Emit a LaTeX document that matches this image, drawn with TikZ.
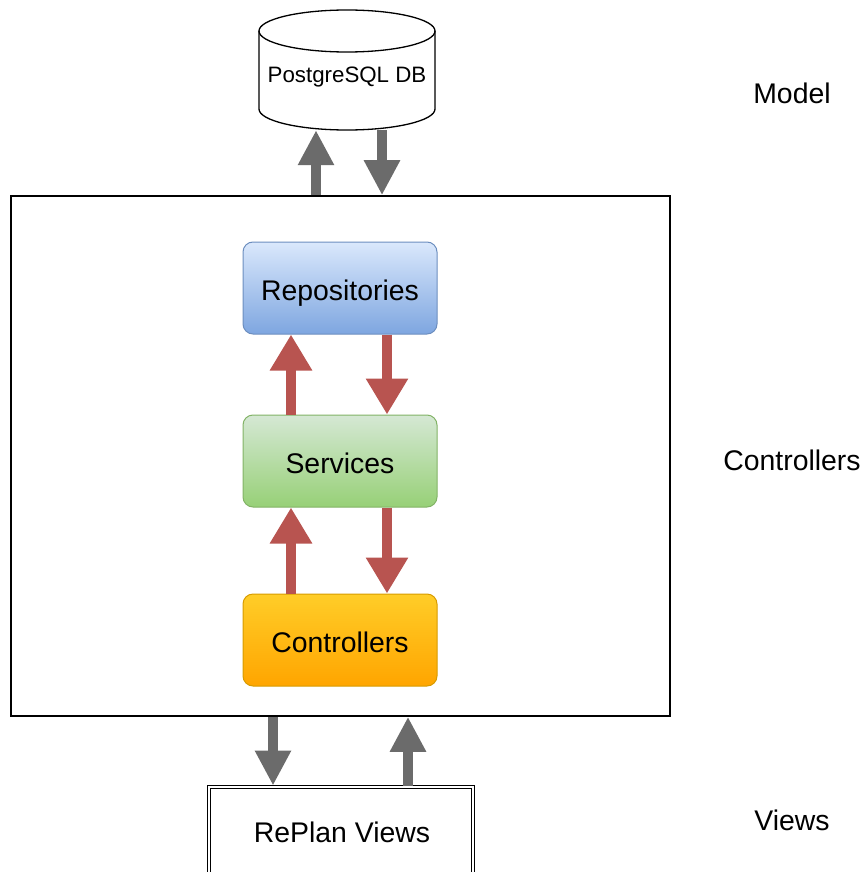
\documentclass[tikz,border=0pt]{standalone}
\usepackage{fontspec}
\setmainfont{Liberation Sans}
\usetikzlibrary{arrows.meta,calc}

\definecolor{repoTop}{HTML}{DAE8FC}
\definecolor{repoBot}{HTML}{7EA6E0}
\definecolor{repoLine}{HTML}{6C8EBF}
\definecolor{servTop}{HTML}{D5E8D4}
\definecolor{servBot}{HTML}{97D077}
\definecolor{servLine}{HTML}{82B366}
\definecolor{ctrlTop}{HTML}{FFCD28}
\definecolor{ctrlBot}{HTML}{FFA500}
\definecolor{ctrlLine}{HTML}{D79B00}
\definecolor{flowRed}{HTML}{B85450}
\definecolor{flowGray}{HTML}{6B6B6B}

\tikzset{
  txt/.style={font=\fontsize{28.4}{34}\selectfont, text=black},
  layerbox/.style={txt, rounded corners=10pt, line width=1pt,
    minimum width=194pt, minimum height=92pt, inner sep=0pt,
    text height=24pt, text depth=0pt},
  redflow/.style={draw=flowRed, line width=10pt,
    -{Triangle[length=36pt,width=40pt]}},
  grayflow/.style={draw=flowGray, line width=10pt,
    -{Triangle[length=35pt,width=34pt]}},
}

\begin{document}
\begin{tikzpicture}[x=1pt,y=-1pt]
  \clip (0,0) rectangle (866,872);
  \useasboundingbox (0,0) rectangle (866,872);

  % database cylinder (y axis points down, so angle 90 is the lower side)
  \draw[line width=1.3pt, fill=white]
    (259,31) -- (259,109) arc[start angle=180,end angle=0,x radius=88,y radius=21]
    -- (435,31) arc[start angle=360,end angle=180,x radius=88,y radius=21] -- cycle;
  \draw[line width=1.3pt] (259,31) arc[start angle=180,end angle=0,x radius=88,y radius=21];
  \node[minimum width=176pt, minimum height=120pt, inner sep=0pt] (db) at (347,70) {};
  \node[font=\fontsize{22.3}{27}\selectfont] (dblabel) at (347,77) {PostgreSQL DB};

  % outer container
  \node[draw=black, line width=1.6pt, minimum width=659pt, minimum height=520pt,
        inner sep=0pt] (app) at (340.5,456) {};

  % layers
  \node[layerbox, top color=repoTop, bottom color=repoBot, draw=repoLine] (repo) at (340,288) {Repositories};
  \node[layerbox, top color=servTop, bottom color=servBot, draw=servLine] (serv) at (340,461) {Services};
  \node[layerbox, top color=ctrlTop, bottom color=ctrlBot, draw=ctrlLine] (ctrl) at (340,640) {Controllers};

  % views box
  \node[txt, draw=black, double, double distance=2pt, line width=0.9pt,
        minimum width=264pt, minimum height=96pt, inner sep=0pt] (views) at (341,835) {};
  \node[txt] (viewslabel) at (342,832) {RePlan Views};

  % column positions for the flows
  \coordinate (dbUp) at (316,0);
  \coordinate (dbDown) at (382,0);
  \coordinate (lUp) at (291,0);
  \coordinate (lDown) at (387,0);
  \coordinate (vDown) at (273,0);
  \coordinate (vUp) at (408,0);

  % flows
  \draw[grayflow] (app.north -| dbUp) -- (db.south -| dbUp);
  \draw[grayflow] (db.south -| dbDown) -- (app.north -| dbDown);
  \draw[redflow] (serv.north -| lUp) -- (repo.south -| lUp);
  \draw[redflow] (repo.south -| lDown) -- (serv.north -| lDown);
  \draw[redflow] (ctrl.north -| lUp) -- (serv.south -| lUp);
  \draw[redflow] (serv.south -| lDown) -- (ctrl.north -| lDown);
  \draw[grayflow] (app.south -| vDown) -- ($(views.north -| vDown)+(0,-1)$);
  \draw[grayflow] ($(views.north -| vUp)+(0,-1)$) -- (app.south -| vUp);

  % layer labels
  \node[txt] (lblModel) at (792,93) {Model};
  \node[txt] (lblCtrl) at (792,460) {Controllers};
  \node[txt] (lblViews) at (792,820) {Views};
\end{tikzpicture}
\end{document}
